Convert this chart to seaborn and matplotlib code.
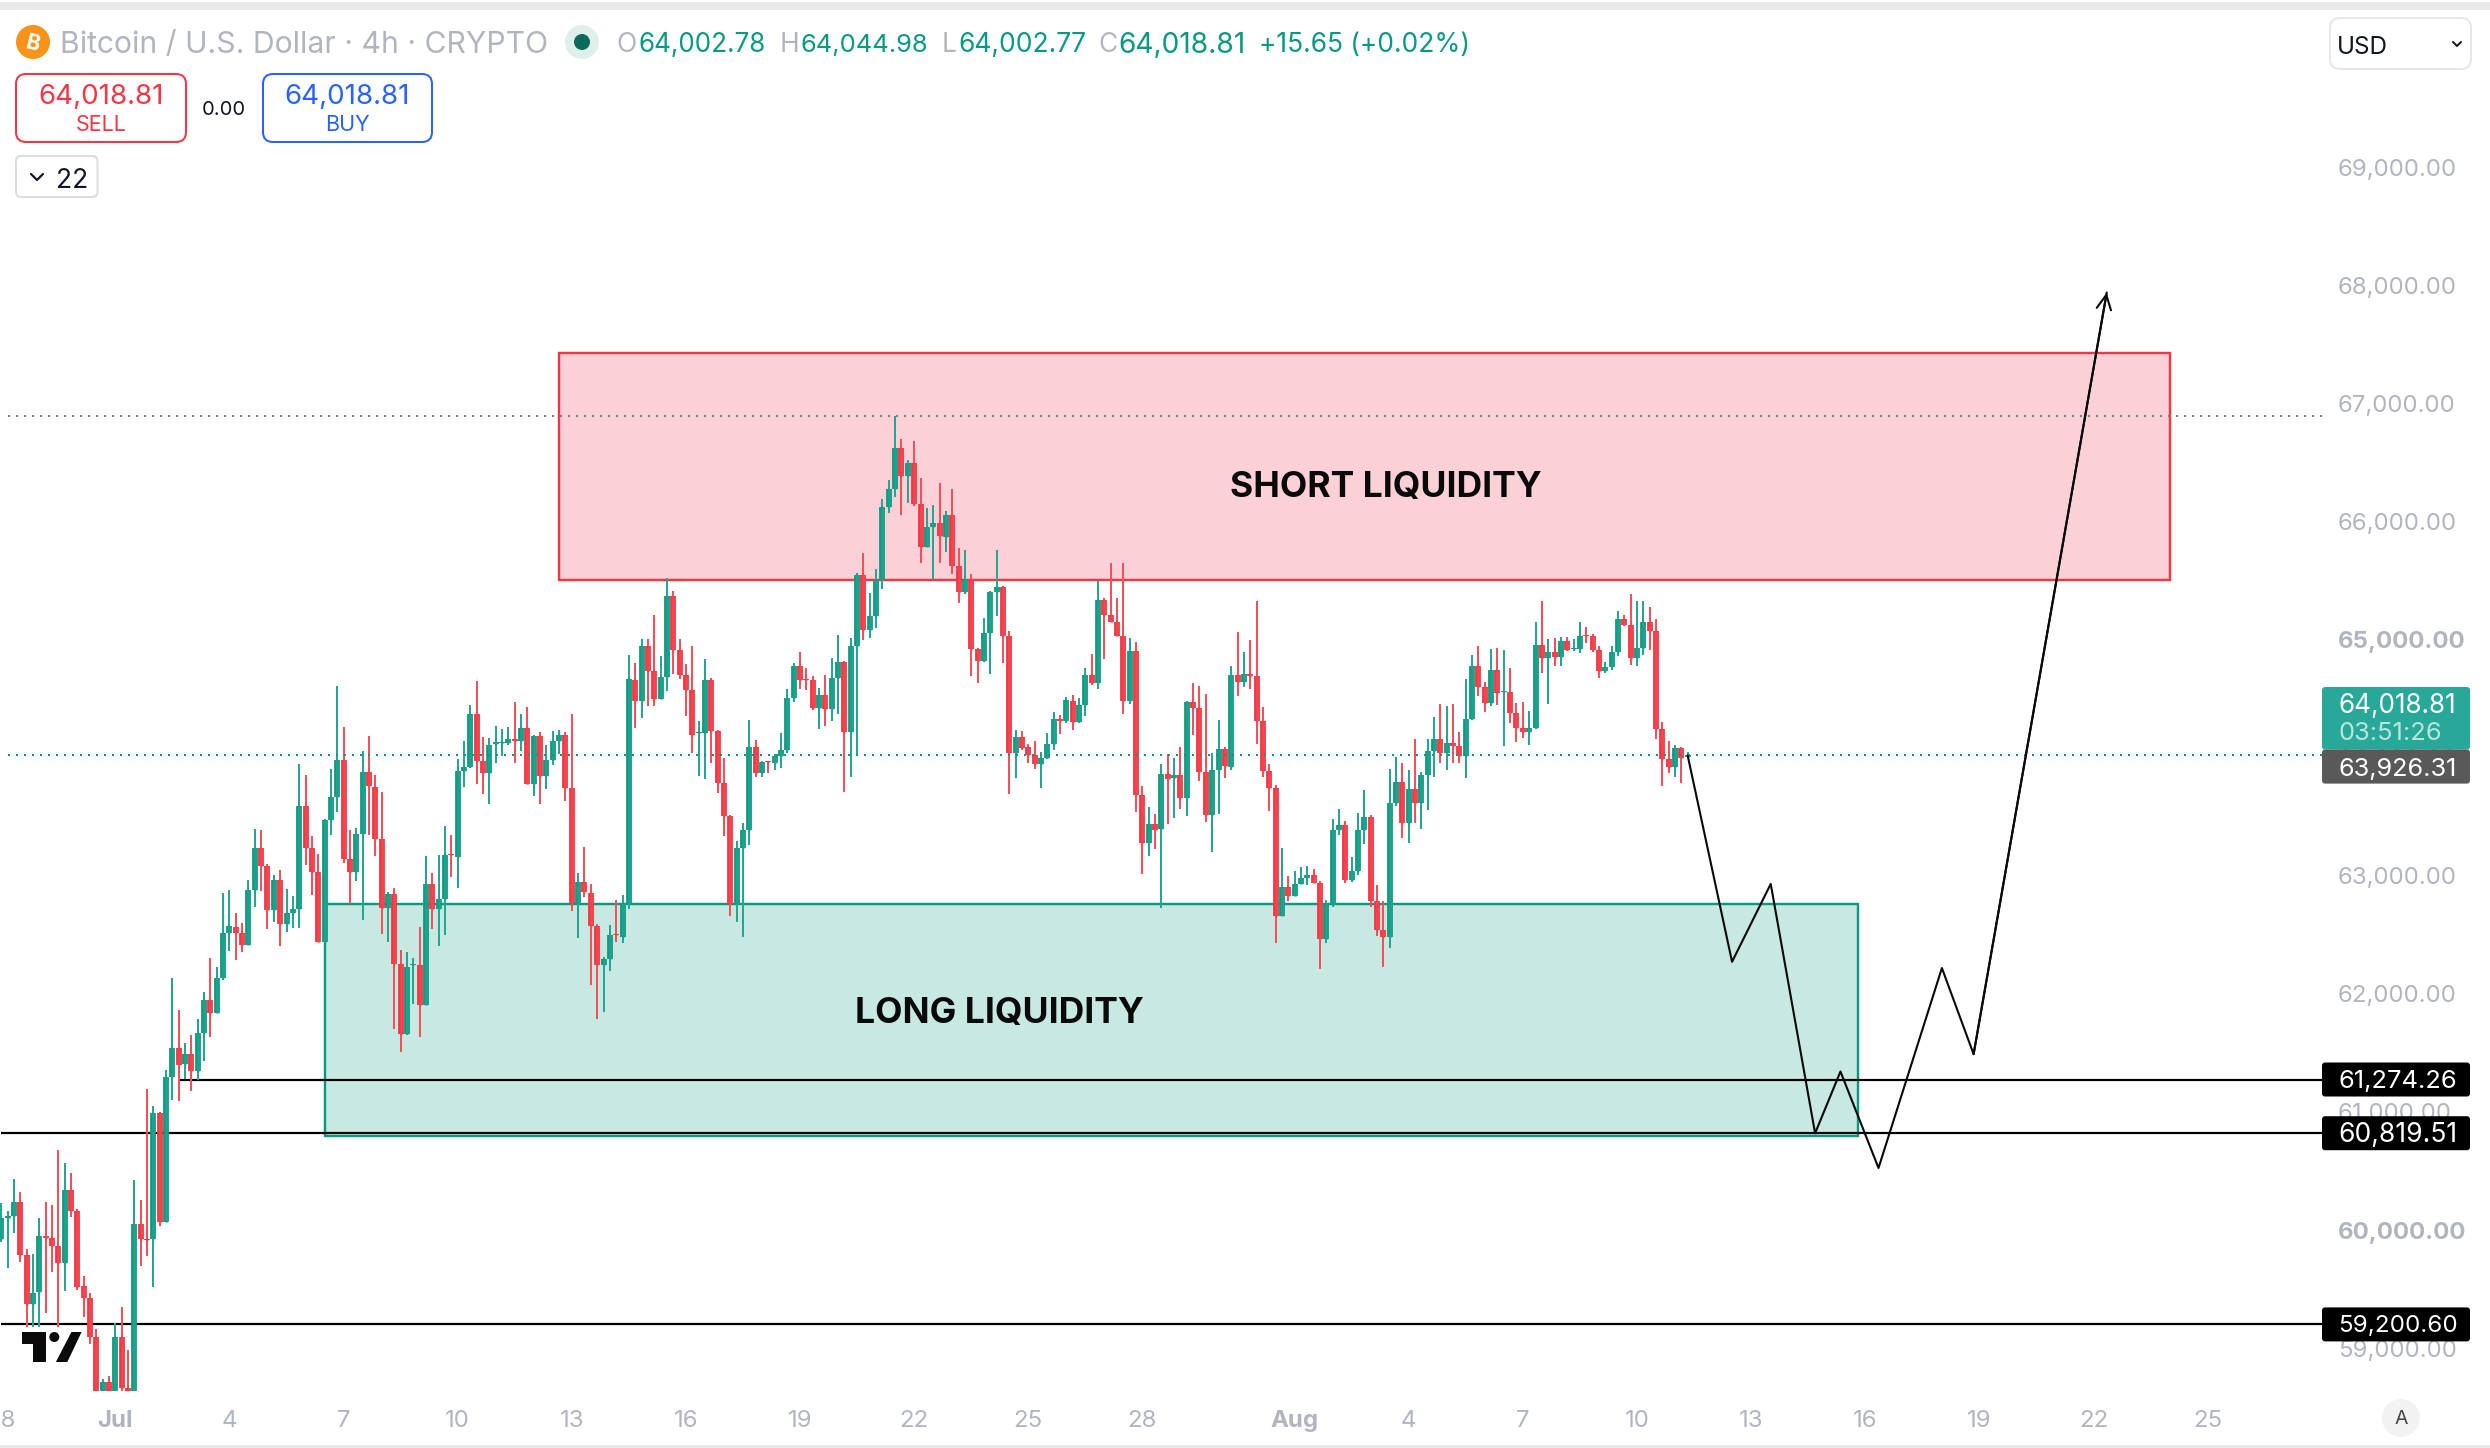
import matplotlib
matplotlib.use("Agg")
import matplotlib.pyplot as plt
import numpy as np
import pandas as pd
import seaborn as sns
from matplotlib.patches import Circle, FancyBboxPatch, Polygon, Rectangle

OPENS = [
    59926, 60103, 60120, 60241, 59787, 59377, 59472, 59947, 59930, 59861,
    59723, 60337, 60164, 59528, 59420, 59091, 58500, 58715, 58550, 59095,
    58663, 58600, 60047, 59926, 59926, 60994, 60064, 61296, 61543, 61405,
    61491, 61348, 61668, 61945, 61841, 62131, 62512, 62563, 62512, 62416,
    62875, 63234, 63082, 62706, 62966, 62589, 62684, 62715, 63588, 63234,
    63030, 62442, 63471, 63666, 63982, 63139, 63030, 63355, 63878, 63753,
    63311, 62723, 62844, 62256, 61660, 62243, 62248, 61902, 62927, 62715,
    62801, 63182, 63156, 63887, 63921, 64371, 63969, 63869, 64116, 64120,
    64124, 64159, 64142, 64254, 63778, 64185, 63843, 63982, 64142, 64194,
    63744, 62767, 62944, 62857, 62572, 62248, 62295, 62503, 62477, 62771,
    64658, 64476, 64945, 64734, 64494, 64679, 65369, 64912, 64700, 64573,
    64207, 64207, 64658, 64225, 63786, 63505, 62763, 63232, 63387, 64089,
    63868, 63968, 63953, 64013, 64065, 64503, 64776, 64667, 64658, 64419,
    64531, 64410, 64673, 64809, 64216, 64945, 65542, 65082, 65200, 65502,
    66123, 66277, 66622, 66383, 66495, 66147, 65781, 65950, 65987, 65866,
    66056, 65620, 65400, 65515, 64918, 64815, 65054, 65403, 65445, 65027,
    64037, 64174, 64089, 64019, 63943, 63998, 64116, 64328, 64310, 64482,
    64298, 64446, 64700, 64634, 65336, 65209, 65148, 65027, 64476, 64906,
    63680, 63278, 63438, 63393, 63862, 63825, 63853, 63659, 64473, 64423,
    63878, 63511, 63895, 64073, 63917, 64700, 64638, 64708, 64692, 64307,
    63884, 63740, 62658, 62903, 62824, 62929, 62977, 63008, 62937, 62463,
    62751, 63386, 63429, 62963, 63039, 63386, 63497, 62790, 62539, 62477,
    63615, 63793, 63446, 63734, 63615, 63853, 64056, 64158, 64039, 64124,
    64098, 64014, 64327, 64776, 64598, 64463, 64742, 64556, 64556, 64375,
    64248, 64214, 64248, 64954, 64844, 64895, 64850, 64991, 64918, 64918,
    65039, 65031, 64912, 64731, 64765, 64892, 65175, 65124, 64844, 64926,
    65152, 65073, 64240, 63988, 63917, 64081, 64002.78,
]
HIGHS = [
    60228, 60164, 60436, 60324, 59839, 59796, 60099, 60237, 60215, 60674,
    60570, 60484, 60175, 59610, 59463, 59160, 58737, 58767, 59212, 59351,
    58983, 60423, 60250, 61193, 61050, 61000, 61353, 62131, 61863, 61582,
    61647, 61785, 62014, 62304, 62230, 62857, 62879, 62684, 62602, 62966,
    63398, 63389, 63095, 63004, 63052, 62888, 62832, 63943, 63856, 63333,
    63182, 63480, 63900, 64604, 64263, 63385, 63407, 64055, 64185, 63856,
    63709, 62862, 62896, 62369, 62352, 62304, 62563, 63169, 63026, 63177,
    63420, 63342, 63990, 64142, 64444, 64648, 64172, 64163, 64271, 64241,
    64263, 64470, 64367, 64427, 64190, 64215, 64107, 64228, 64237, 64220,
    64367, 63026, 63247, 62931, 62594, 62313, 62581, 62797, 62840, 64868,
    64800, 65006, 65006, 65209, 64861, 65518, 65412, 65006, 64794, 64945,
    64310, 64836, 64670, 64235, 63998, 63514, 63293, 63444, 64322, 64149,
    63974, 63972, 64034, 64210, 64585, 64800, 64897, 64761, 64694, 64591,
    64700, 64846, 65042, 64820, 65009, 65566, 65732, 65390, 65593, 66187,
    66353, 66895, 66701, 66516, 66677, 66371, 66111, 66135, 66329, 66084,
    66271, 65778, 65754, 65551, 64925, 65185, 65410, 65754, 65457, 65076,
    64237, 64228, 64119, 64143, 64046, 64210, 64388, 64361, 64516, 64534,
    64507, 64761, 64873, 65499, 65354, 65651, 65354, 65645, 65015, 64982,
    63762, 63583, 63523, 63950, 64034, 63998, 64092, 64482, 64634, 64610,
    64539, 64042, 64321, 64093, 64779, 65067, 64898, 64999, 65330, 64432,
    63949, 63768, 63237, 62999, 63042, 63076, 63084, 63059, 62957, 62796,
    63482, 63567, 63463, 63160, 63533, 63728, 63516, 62923, 62787, 63906,
    64008, 63951, 63898, 64160, 63881, 64160, 64347, 64454, 64440, 64454,
    64220, 64669, 64872, 64949, 64644, 64923, 64932, 64915, 64762, 64466,
    64474, 64398, 65144, 65322, 65005, 65016, 65025, 65025, 65008, 65144,
    65110, 65047, 64949, 64813, 64949, 65245, 65211, 65389, 65322, 65322,
    65279, 65175, 64302, 64143, 64110, 64093, 64044.98,
]
LOWS = [
    59895, 59679, 59978, 59731, 59178, 59178, 59178, 59299, 59645, 59178,
    59485, 60112, 59493, 59264, 59031, 58400, 58400, 58450, 58450, 58500,
    58500, 58500, 59697, 59783, 59515, 60034, 60064, 61102, 61089, 61275,
    61175, 61266, 61435, 61634, 61841, 62118, 62360, 62282, 62356, 62416,
    62732, 62870, 62550, 62607, 62403, 62520, 62555, 62559, 63087, 62840,
    62442, 62442, 63342, 63536, 63104, 62758, 62957, 62628, 63342, 63169,
    62507, 62442, 61699, 61504, 61655, 61915, 61634, 61902, 62550, 62403,
    62499, 62991, 62896, 63753, 63913, 63774, 63696, 63610, 63956, 64012,
    64107, 63951, 64055, 63778, 63679, 63610, 63731, 63938, 64034, 63636,
    62702, 62473, 62823, 62075, 61785, 61846, 62192, 62442, 62434, 62715,
    64249, 64334, 64434, 64434, 64494, 64561, 64706, 64664, 64355, 64043,
    63847, 63816, 63953, 63704, 63332, 62660, 62612, 62485, 63256, 63832,
    63832, 63871, 63892, 63913, 64037, 64467, 64579, 64570, 64401, 64240,
    64264, 64307, 64367, 63710, 63832, 64028, 64994, 65012, 65097, 65427,
    66071, 66208, 66053, 66153, 66129, 65651, 65781, 65511, 65645, 65739,
    65554, 65312, 65384, 64688, 64634, 64806, 64712, 65197, 64803, 63689,
    63828, 64068, 63953, 63907, 63744, 63986, 64068, 64204, 64292, 64231,
    64289, 64355, 64612, 64579, 64839, 65148, 65027, 64367, 64452, 63541,
    63011, 63163, 63229, 62724, 63441, 63489, 63568, 63508, 64195, 63804,
    63451, 63197, 63522, 63824, 63898, 64525, 64601, 64584, 64118, 63833,
    63550, 62434, 62658, 62787, 62824, 62929, 62923, 62937, 62211, 62426,
    62739, 63347, 62934, 62949, 63002, 63271, 62739, 62491, 62231, 62384,
    63593, 63321, 63273, 63443, 63392, 63553, 63833, 63951, 63892, 63951,
    63957, 63824, 64322, 64525, 64389, 64434, 64443, 64101, 64296, 64129,
    64169, 64110, 64240, 64720, 64457, 64776, 64779, 64906, 64906, 64884,
    64974, 64892, 64677, 64720, 64742, 64864, 65118, 64788, 64779, 64872,
    64915, 64160, 63762, 63872, 63838, 63788, 64002.77,
]
CLOSES = [
    60099, 60120, 60241, 59787, 59377, 59467, 59947, 59934, 59861, 59723,
    60337, 60164, 59515, 59420, 59091, 58500, 58715, 58550, 59095, 58663,
    58640, 60047, 59926, 59917, 60994, 60064, 61296, 61543, 61400, 61491,
    61348, 61668, 61945, 61841, 62131, 62512, 62572, 62512, 62416, 62875,
    63234, 63082, 62706, 62966, 62589, 62684, 62715, 63588, 63234, 63030,
    62442, 63471, 63666, 63982, 63139, 63030, 63355, 63878, 63761, 63311,
    62723, 62844, 62256, 61660, 62230, 62256, 61902, 62927, 62715, 62801,
    63173, 63173, 63887, 63921, 64371, 63969, 63869, 64107, 64129, 64133,
    64159, 64142, 64254, 63778, 64185, 63843, 63982, 64142, 64194, 63744,
    62767, 62944, 62862, 62572, 62248, 62295, 62494, 62494, 62771, 64669,
    64476, 64945, 64734, 64494, 64682, 65369, 64912, 64700, 64573, 64192,
    64216, 64658, 64225, 63786, 63505, 62763, 63232, 63387, 64089, 63868,
    63962, 63959, 64013, 64065, 64503, 64776, 64658, 64658, 64419, 64531,
    64410, 64673, 64809, 64216, 64945, 65542, 65082, 65200, 65502, 66123,
    66277, 66622, 66383, 66495, 66147, 65781, 65953, 65987, 65875, 66056,
    65620, 65400, 65515, 64918, 64815, 65054, 65403, 65445, 65027, 64037,
    64174, 64083, 64019, 63943, 63998, 64116, 64328, 64310, 64488, 64301,
    64446, 64700, 64634, 65336, 65209, 65148, 65027, 64476, 64906, 63680,
    63278, 63438, 63387, 63862, 63816, 63853, 63659, 64473, 64422, 63878,
    63511, 63895, 64073, 63926, 64700, 64638, 64708, 64692, 64307, 63884,
    63740, 62658, 62903, 62824, 62929, 62980, 63008, 62937, 62463, 62765,
    63386, 63429, 62963, 63039, 63386, 63497, 62790, 62539, 62477, 63615,
    63793, 63446, 63734, 63615, 63853, 64056, 64158, 64039, 64124, 64098,
    64014, 64327, 64776, 64598, 64463, 64742, 64545, 64564, 64375, 64248,
    64214, 64248, 64954, 64844, 64895, 64850, 64991, 64912, 64929, 65031,
    65028, 64909, 64731, 64768, 64895, 65175, 65124, 64844, 64929, 65152,
    65073, 64240, 63988, 63917, 64081, 63997, 64018.81,
]

# candle number of each date label (6 candles a day, Jun 28 is candle 0)
TICK_POS = [0, 18, 36, 54, 72, 90, 108, 126, 144, 162, 180, 204, 222, 240, 258, 276, 294, 312, 330, 348]
TICK_LABELS = ["28", "Jul", "4", "7", "10", "13", "16", "19", "22", "25", "28",
               "Aug", "4", "7", "10", "13", "16", "19", "22", "25"]
PRICE_TICKS = [59000, 60000, 61000, 62000, 63000, 64000, 65000, 66000, 67000, 68000, 69000]
BOLD_TICKS = [60000, 65000]

LEVELS = [61274.26, 60819.51, 59200.60]
LEVEL_STARTS = [28, 0, 0]
LAST_PRICE = 64018.81
PREV_LABEL = 63926.31
COUNTDOWN = "03:51:26"
HIGH_DOT = 66892

SHORT_ZONE = (88, 342, 65500, 67428)
LONG_ZONE = (51.1, 292.9, 60799, 62760)

PATH_I = [266, 273, 279.1, 286.1, 290.1, 296.1, 306.1, 311.1, 332.1]
PATH_P = [64018, 62271, 62930, 60819, 61342, 60525, 62218, 61489, 67938]

GREEN = "#0f9a82"
GREEN_IN = "#1fa28d"
GREEN_WICK = "#26a592"
RED = "#f23645"
RED_IN = "#f5454f"
RED_WICK = "#f4505c"
GREY = "#b2b5be"
PX = 0.72  # one pixel in points at dpi 100


def seg_frame(a, b):
    # two rows per candle so lineplot draws one vertical segment per unit
    up = np.array(CLOSES) >= np.array(OPENS)
    rows = []
    for i in range(len(a)):
        side = "up" if up[i] else "down"
        rows.append((i, a[i], side))
        rows.append((i, b[i], side))
    return pd.DataFrame(rows, columns=["candle", "price", "side"])


def draw_segs(ax, frame, width, up_col, down_col, z):
    sns.lineplot(data=frame, x="candle", y="price", hue="side", units="candle",
                 estimator=None, palette={"up": up_col, "down": down_col},
                 linewidth=width * PX, solid_capstyle="butt", legend=False, ax=ax, zorder=z)


def price_px(p):
    return 1230 - (p - 60000) * 0.1181


def tag(ui, top, bottom, color):
    ui.add_patch(FancyBboxPatch((2322, top), 148, bottom - top,
                                boxstyle="round,pad=0,rounding_size=3", fc=color, ec="none", zorder=6))


def fit(txt, width):
    # the original uses even-width digits, so scale each number to that width
    bb = txt.get_window_extent(fig.canvas.get_renderer())
    txt.set_fontsize(txt.get_fontsize() * width / bb.width)
    return txt


sns.set_theme(style="white")
plt.rcParams['font.family'] = ['Inter', 'DejaVu Sans']

fig = plt.figure(figsize=(24.9, 14.48), dpi=100, facecolor="white")
ax = fig.add_axes([0, (1448 - 1391) / 1448, 2322 / 2490, (1391 - 11) / 1448])

# zones sit under everything
for zone, fc, ec in [(SHORT_ZONE, "#fbd0d6", RED), (LONG_ZONE, "#c8e9e2", "#089981")]:
    ax.add_patch(Rectangle((zone[0], zone[2]), zone[1] - zone[0], zone[3] - zone[2],
                           fc=fc, ec=ec, lw=2.4 * PX, zorder=1))

for level, start in zip(LEVELS, LEVEL_STARTS):
    ax.plot([start, 366.05], [level, level], color="black", lw=2.2 * PX, zorder=2, solid_capstyle="butt")

draw_segs(ax, seg_frame(HIGHS, LOWS), 2, GREEN_WICK, RED_WICK, 3)
draw_segs(ax, seg_frame(OPENS, CLOSES), 5.8, GREEN, RED, 3.1)
draw_segs(ax, seg_frame(OPENS, CLOSES), 2.8, GREEN_IN, RED_IN, 3.2)

ax.plot([1, 366.05], [HIGH_DOT, HIGH_DOT], color="#787b86", lw=2 * PX, ls=(0, (1, 3)), zorder=4)
ax.plot([1, 366.05], [LAST_PRICE, LAST_PRICE], color="#089981", lw=2 * PX, ls=(0, (1, 3)), zorder=4)

sns.lineplot(x=PATH_I, y=PATH_P, estimator=None, sort=False, color="#0a0a0a",
             linewidth=2.1 * PX, legend=False, ax=ax, zorder=5)
ax.annotate("", xy=(PATH_I[-1], PATH_P[-1]), xytext=(PATH_I[-2], PATH_P[-2]),
            arrowprops=dict(arrowstyle="->", color="#0a0a0a", lw=2.1 * PX,
                            mutation_scale=26, shrinkA=0, shrinkB=0), zorder=5)

ax.text(218.4, 66289, "SHORT LIQUIDITY", ha="center", va="center", fontsize=25.6,
        fontweight="bold", color="#0a0a0a", zorder=6)
ax.text(157.5, 61831, "LONG LIQUIDITY", ha="center", va="center", fontsize=25.6,
        fontweight="bold", color="#0a0a0a", zorder=6)

ax.set_xlim(-0.19, 366.05)
ax.set_ylim(60000 - 161 / 0.1181, 60000 + 1219 / 0.1181)
ax.set_xlabel("")
ax.set_ylabel("")
for spine in ax.spines.values():
    spine.set_visible(False)

ax.set_xticks(TICK_POS)
ax.set_xticklabels(TICK_LABELS, fontsize=17.3, color=GREY)
ax.yaxis.tick_right()
ax.set_yticks(PRICE_TICKS)
ax.set_yticklabels([f"{p:,.2f}" for p in PRICE_TICKS], fontsize=17.3, color=GREY)
ax.tick_params(axis="x", length=0, pad=13.7)
ax.tick_params(axis="y", length=0, pad=11.5)
for lab in ax.get_xticklabels():
    if lab.get_text() in ("Jul", "Aug"):
        lab.set_fontweight("bold")
for lab, p in zip(ax.get_yticklabels(), PRICE_TICKS):
    if p in BOLD_TICKS:
        lab.set_fontweight("bold")

# everything of the trading-app frame goes on a pixel overlay
ui = fig.add_axes([0, 0, 1, 1], facecolor="none")
ui.set_xlim(0, 2490)
ui.set_ylim(1448, 0)
ui.axis("off")

ui.add_patch(Rectangle((0, 2), 2490, 8, fc="#e9e9e9", ec="none"))
ui.add_patch(Rectangle((0, 1445), 2490, 3, fc="#e9e9e9", ec="none"))

ui.add_patch(Circle((33, 42), 17, fc="#f7931a", ec="none"))
ui.text(33, 44, "B", ha="center", va="center", color="white", fontsize=15, fontweight="bold", rotation=-14)
ui.text(60, 45, "Bitcoin / U.S. Dollar · 4h · CRYPTO", ha="left", va="center", color=GREY, fontsize=21.7)
ui.add_patch(Circle((582, 42), 17, fc="#e0efec", ec="none"))
ui.add_patch(Circle((582, 42), 8, fc="#0b6a58", ec="none"))

HEADER = [(616, "O", 638, "64,002.78"), (780, "H", 800, "64,044.98"),
          (942, "L", 958, "64,002.77"), (1098, "C", 1118, "64,018.81")]
for lx, letter, vx, val in HEADER:
    ui.text(lx, 45, letter, ha="left", va="center", color=GREY, fontsize=19)
    fit(ui.text(vx, 45, val, ha="left", va="center", color="#089981", fontsize=19), 128)
ui.text(1259, 45, "+15.65 (+0.02%)", ha="left", va="center", color="#089981", fontsize=19)

for x0, x1, col, word in [(16, 186, RED, "SELL"), (263, 432, "#2962ff", "BUY")]:
    ui.add_patch(FancyBboxPatch((x0, 74), x1 - x0, 68, boxstyle="round,pad=0,rounding_size=10",
                                fc="white", ec=col, lw=2 * PX))
    fit(ui.text((x0 + x1) / 2, 97, "64,018.81", ha="center", va="center", color=col, fontsize=19), 126)
    ui.text((x0 + x1) / 2, 125, word, ha="center", va="center", color=col, fontsize=15.5)
ui.text(224, 110, "0.00", ha="center", va="center", color="#131722", fontsize=14.5)

ui.add_patch(FancyBboxPatch((16, 156), 81.5, 41, boxstyle="round,pad=0,rounding_size=5",
                            fc="white", ec="#dcdcdc", lw=2 * PX))
ui.plot([31, 37, 43], [174, 180, 174], color="#131722", lw=2.2 * PX)
ui.text(72, 181, "22", ha="center", va="center", color="#131722", fontsize=19)

ui.add_patch(FancyBboxPatch((2330, 18), 141, 51, boxstyle="round,pad=0,rounding_size=10",
                            fc="white", ec="#e6e6e6", lw=2 * PX))
ui.text(2337, 47, "USD", ha="left", va="center", color="#131722", fontsize=17.5)
ui.plot([2453, 2457, 2461], [42, 46, 42], color="#131722", lw=2 * PX)

# price tags on the right scale
tag(ui, 687, 749.5, "#27a899")
fit(ui.text(2338, 706, f"{LAST_PRICE:,.2f}", ha="left", va="center", color="white", fontsize=18, zorder=7), 119)
fit(ui.text(2338, 734, COUNTDOWN, ha="left", va="center", color="#b8e6dd", fontsize=18, zorder=7), 104)
tag(ui, 749.5, 783.6, "#595959")
fit(ui.text(2338, 769, f"{PREV_LABEL:,.2f}", ha="left", va="center", color="white", fontsize=18, zorder=7), 119)
for level in LEVELS:
    y = price_px(level)
    tag(ui, y - 17, y + 17, "black")
    fit(ui.text(2338, y + 2, f"{level:,.2f}", ha="left", va="center", color="white", fontsize=18, zorder=7), 119)

# chart logo bottom left
ui.add_patch(Polygon([(21.6, 1332), (46, 1332), (46, 1362), (32.7, 1362), (32.7, 1344), (21.6, 1344)],
                     fc="#0a0a0a", ec="none", zorder=6))
ui.add_patch(Circle((54.3, 1337), 5, fc="#0a0a0a", ec="none", zorder=6))
ui.add_patch(Polygon([(71.4, 1332), (81.6, 1332), (67.3, 1362), (55.9, 1362)], fc="#0a0a0a", ec="none", zorder=6))

ui.add_patch(Circle((2401, 1418), 19, fc="#f2f2f2", ec="none"))
ui.text(2401, 1419, "A", ha="center", va="center", color="#444444", fontsize=14)

fig.savefig("out.png", dpi=100)
